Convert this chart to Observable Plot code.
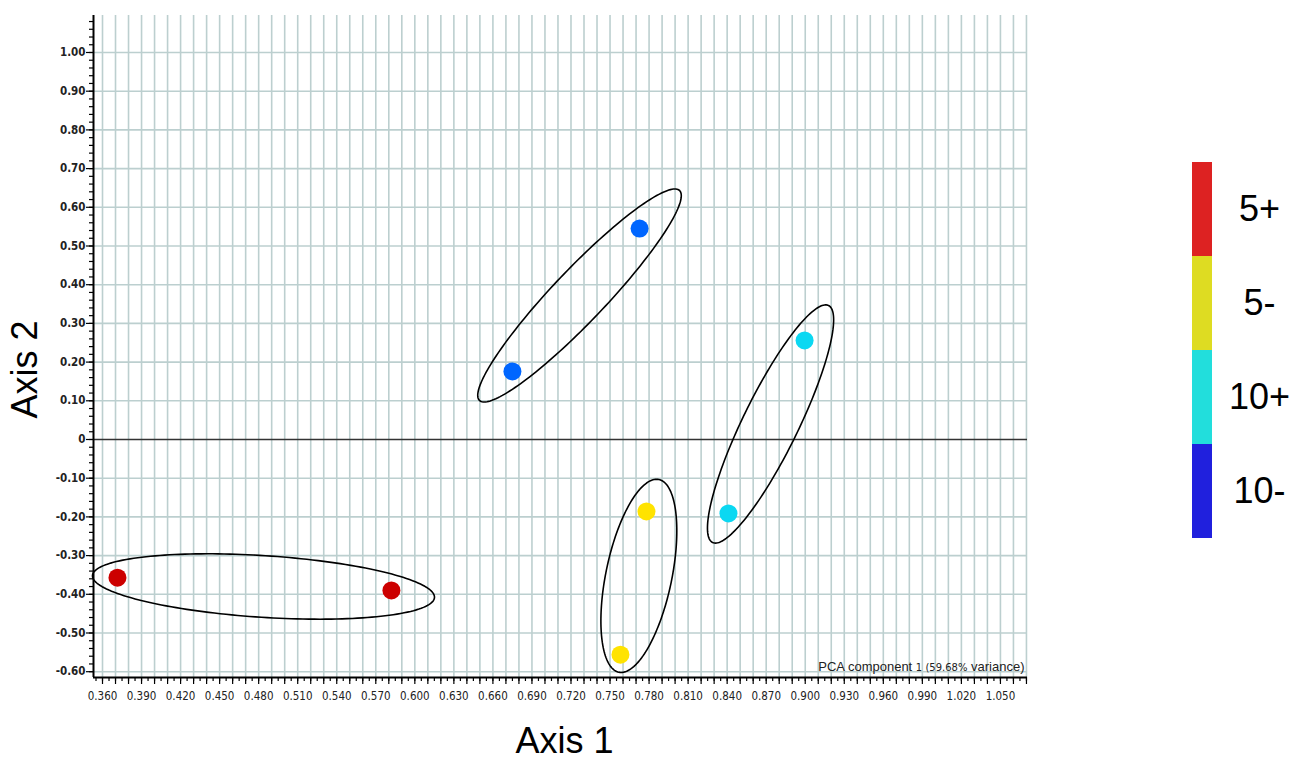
<!DOCTYPE html>
<html>
<head>
<meta charset="utf-8">
<script src="https://cdn.jsdelivr.net/npm/d3@7"></script>
<script src="https://cdn.jsdelivr.net/npm/@observablehq/plot@0.6"></script>
<style>
  html, body { margin: 0; padding: 0; background: #fff; }
  #wrap { position: relative; width: 1294px; height: 759px; overflow: hidden; }
  #chart { position: absolute; left: 0; top: 0; }
  #legend { position: absolute; left: 1150px; top: 162px; }
</style>
</head>
<body>
<div id="wrap"><div id="chart"></div><div id="legend"></div></div>
<script>
// ---------- data ----------
const groupNames   = ["5+", "5-", "10+", "10-"];
const legendColors = ["#dd2222", "#dedc22", "#22dedc", "#2020dd"];
const pointColors  = ["#cc0000", "#ffe300", "#0bd8f2", "#0066ff"];

const sampleGroup = ["5+", "5+", "5-", "5-", "10+", "10+", "10-", "10-"];
const axis1Values = [0.3715, 0.582, 0.778, 0.758, 0.8995, 0.841, 0.7727, 0.675];
const axis2Values = [-0.357, -0.390, -0.186, -0.556, 0.256, -0.191, 0.545, 0.176];

// ellipses: ends of the major axis (data units) and minor/major ratio
const ellipseGroup = ["5+", "5-", "10+", "10-"];
const ellipseX1 = [0.3523, 0.7875, 0.9179, 0.8034];
const ellipseY1 = [-0.3514, -0.1034, 0.3463, 0.6434];
const ellipseX2 = [0.6151, 0.7568, 0.8288, 0.6497];
const ellipseY2 = [-0.4083, -0.6013, -0.2661, 0.1008];
const ellipseRatio = [0.18, 0.335, 0.21, 0.18];

const xTickLabels = ["0.360","0.390","0.420","0.450","0.480","0.510","0.540","0.570","0.600","0.630","0.660","0.690",
                     "0.720","0.750","0.780","0.810","0.840","0.870","0.900","0.930","0.960","0.990","1.020","1.050"];
const yTickLabels = ["-0.60","-0.50","-0.40","-0.30","-0.20","-0.10","0","0.10","0.20","0.30","0.40","0.50",
                     "0.60","0.70","0.80","0.90","1.00"];
const xTitle = "Axis 1";
const yTitle = "Axis 2";
const pcaLabel = "PCA component 1 (59.68% variance)";

// ---------- layout ----------
const W = 1294, H = 759, mL = 93, mR = 267, mT = 15, mB = 82;
const xDomain = [0.35308, 1.0708];
const yDomain = [-0.615, 1.0956];
const kx = (W - mL - mR) / (xDomain[1] - xDomain[0]);
const ky = (H - mT - mB) / (yDomain[1] - yDomain[0]);

const xTickValues = xTickLabels.map(Number);
const yTickValues = yTickLabels.map(Number);
const xGrid = d3.range(36, 108).map(d => d / 100);            // every 0.01
const xMinor = d3.range(71, 215).map(d => d / 200);           // every 0.005
const yMinor = d3.range(-30, 55).map(d => d / 50);            // every 0.02
const yGrid = yTickValues.filter(d => d !== 0);

const points = sampleGroup.map((g, i) => ({
  group: g, a1: axis1Values[i], a2: axis2Values[i],
  color: pointColors[groupNames.indexOf(g)]
}));

const ellipsePts = [];
ellipseGroup.forEach((g, i) => {
  const cx = (ellipseX1[i] + ellipseX2[i]) / 2, cy = (ellipseY1[i] + ellipseY2[i]) / 2;
  const vx = (ellipseX1[i] - ellipseX2[i]) / 2 * kx, vy = -(ellipseY1[i] - ellipseY2[i]) / 2 * ky;
  const a = Math.hypot(vx, vy), b = a * ellipseRatio[i], phi = Math.atan2(vy, vx);
  for (let k = 0; k <= 180; k++) {
    const t = k / 180 * 2 * Math.PI;
    const px = a * Math.cos(t) * Math.cos(phi) - b * Math.sin(t) * Math.sin(phi);
    const py = a * Math.cos(t) * Math.sin(phi) + b * Math.sin(t) * Math.cos(phi);
    ellipsePts.push({group: g, x: cx + px / kx, y: cy - py / ky});
  }
});

const tickFont = "'Liberation Sans Narrow', 'DejaVu Sans Condensed', sans-serif";
const gridColor = "#bccfcf";

const chart = Plot.plot({
  width: W, height: H,
  marginLeft: mL, marginRight: mR, marginTop: mT, marginBottom: mB,
  style: {background: "#fff", overflow: "visible"},
  x: {domain: xDomain, label: null},
  y: {domain: yDomain, label: null},
  marks: [
    Plot.ruleX(xGrid, {stroke: gridColor, strokeWidth: 1.6}),
    Plot.ruleY(yGrid, {stroke: gridColor, strokeWidth: 1.6}),
    Plot.ruleY([0], {stroke: "#333", strokeWidth: 1.5}),
    Plot.line(ellipsePts, {x: "x", y: "y", z: "group", stroke: "#000", strokeWidth: 1.6}),
    Plot.dot(points, {x: "a1", y: "a2", r: 9, fill: "color", stroke: "none"}),
    Plot.ruleX([xDomain[0]], {stroke: "#000", strokeWidth: 2}),
    Plot.ruleY([yDomain[0]], {stroke: "#000", strokeWidth: 2}),
    Plot.axisX({ticks: xMinor, tickSize: 4, tickFormat: () => "", label: null, strokeWidth: 1.2, stroke: "#000"}),
    Plot.axisX({ticks: xGrid, tickSize: 7, tickFormat: () => "", label: null, strokeWidth: 1.2, stroke: "#000"}),
    Plot.axisX({ticks: xTickValues, tickSize: 0, tickPadding: 14,
      tickFormat: d => xTickLabels[xTickValues.indexOf(d)], label: null,
      fontFamily: tickFont, fontSize: 11.5, fill: "#222"}),
    Plot.axisY({ticks: yMinor, tickSize: 4, tickFormat: () => "", label: null, strokeWidth: 1.2, stroke: "#000"}),
    Plot.axisY({ticks: yTickValues, tickSize: 7, tickPadding: 1,
      tickFormat: d => yTickLabels[yTickValues.indexOf(d)], label: null, strokeWidth: 1.2, stroke: "#000",
      fontFamily: tickFont, fontSize: 11.5, fontWeight: "bold", fill: "#222"}),
    Plot.text([pcaLabel], {frameAnchor: "bottom-right", text: d => d, textAnchor: "end", lineAnchor: "bottom",
      dx: -3, dy: -7, fontFamily: "'Liberation Sans', Arial, sans-serif", fontSize: 13, fill: "#222"}),
    Plot.text([xTitle], {frameAnchor: "bottom", text: d => d, textAnchor: "middle", lineAnchor: "bottom", dx: 4, dy: 75,
      fontFamily: "'Liberation Sans', Arial, sans-serif", fontSize: 36, fill: "#000"}),
    Plot.text([yTitle], {frameAnchor: "left", text: d => d, rotate: -90, textAnchor: "middle", lineAnchor: "middle",
      dx: -68, dy: 23, fontFamily: "'Liberation Sans', Arial, sans-serif", fontSize: 36, fill: "#000"})
  ]
});
document.getElementById("chart").appendChild(chart);

// split the PCA label into sizes like the original
d3.select(chart).selectAll("text").each(function() {
  if (this.textContent === pcaLabel) {
    const t = d3.select(this);
    t.text(null);
    t.append("tspan").text("PCA component ");
    t.append("tspan").attr("font-size", 10).attr("font-family", "'DejaVu Sans', sans-serif").text("1 (59.68%");
    t.append("tspan").text(" variance)");
  }
});

// ---------- legend ----------
const legend = Plot.plot({
  width: 144, height: 376,
  marginLeft: 42, marginRight: 82, marginTop: 0, marginBottom: 0,
  x: {axis: null},
  y: {domain: groupNames, axis: null, padding: 0},
  color: {domain: groupNames, range: legendColors},
  marks: [
    Plot.cell(groupNames, {y: d => d, fill: d => d}),
    Plot.text(groupNames, {y: d => d, text: d => d, frameAnchor: "right", dx: 47, textAnchor: "middle",
      fontFamily: "'Liberation Sans', Arial, sans-serif", fontSize: 36, fill: "#000"})
  ],
  style: {overflow: "visible", background: "transparent"}
});
document.getElementById("legend").appendChild(legend);
</script>
</body>
</html>
